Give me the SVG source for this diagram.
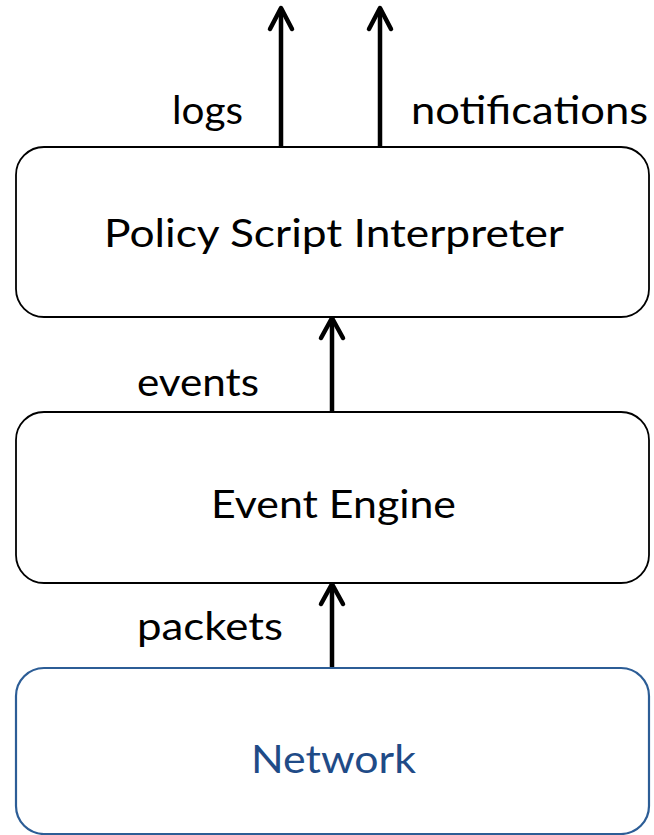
<svg xmlns="http://www.w3.org/2000/svg" width="654" height="835" viewBox="0 0 654 835">
  <style>
    .box { fill: #ffffff; stroke: #000000; stroke-width: 1.8; }
    .net { fill: #ffffff; stroke: #2c5d96; stroke-width: 2.2; }
    .lbl { font-family: Lato, "Open Sans", "Liberation Sans", sans-serif; font-size: 38px; fill: #000000; }
    .netlbl { fill: #1f4b87; }
    .wire { stroke: #000000; stroke-width: 4.5; stroke-linecap: round; fill: none; }
    .head { stroke: #000000; stroke-width: 4.5; stroke-linecap: round; stroke-linejoin: round; fill: none; }
  </style>

  <!-- Connectors: upward flows between layers -->
  <g id="connectors">
    <line class="wire" x1="281" y1="147" x2="281" y2="9"/>
    <polyline class="head" points="270,29 281,8 292,29"/>
    <line class="wire" x1="380" y1="147" x2="380" y2="9"/>
    <polyline class="head" points="369,29 380,8 391,29"/>
    <line class="wire" x1="332" y1="412" x2="332" y2="319"/>
    <polyline class="head" points="321,338 332,318 343,338"/>
    <line class="wire" x1="332" y1="668" x2="332" y2="585"/>
    <polyline class="head" points="321,604 332,584 343,604"/>
  </g>

  <!-- Connector labels -->
  <g id="labels">
    <text class="lbl" x="172" y="124" textLength="71" lengthAdjust="spacingAndGlyphs">logs</text>
    <text class="lbl" x="411" y="124" textLength="237" lengthAdjust="spacingAndGlyphs">notifications</text>
    <text class="lbl" x="137" y="396" textLength="122" lengthAdjust="spacingAndGlyphs">events</text>
    <text class="lbl" x="137" y="640" textLength="146" lengthAdjust="spacingAndGlyphs">packets</text>
  </g>

  <g id="policy-script-interpreter">
    <rect class="box" x="16" y="147" width="633" height="170" rx="28" ry="28"/>
    <text class="lbl" x="104" y="247" textLength="460" lengthAdjust="spacingAndGlyphs">Policy Script Interpreter</text>
  </g>

  <g id="event-engine">
    <rect class="box" x="16" y="412" width="633" height="171" rx="28" ry="28"/>
    <text class="lbl" x="211" y="518" textLength="245" lengthAdjust="spacingAndGlyphs">Event Engine</text>
  </g>

  <g id="network">
    <rect class="net" x="16" y="668" width="633" height="166" rx="28" ry="28"/>
    <text class="lbl netlbl" x="251" y="773" textLength="165" lengthAdjust="spacingAndGlyphs">Network</text>
  </g>
</svg>
